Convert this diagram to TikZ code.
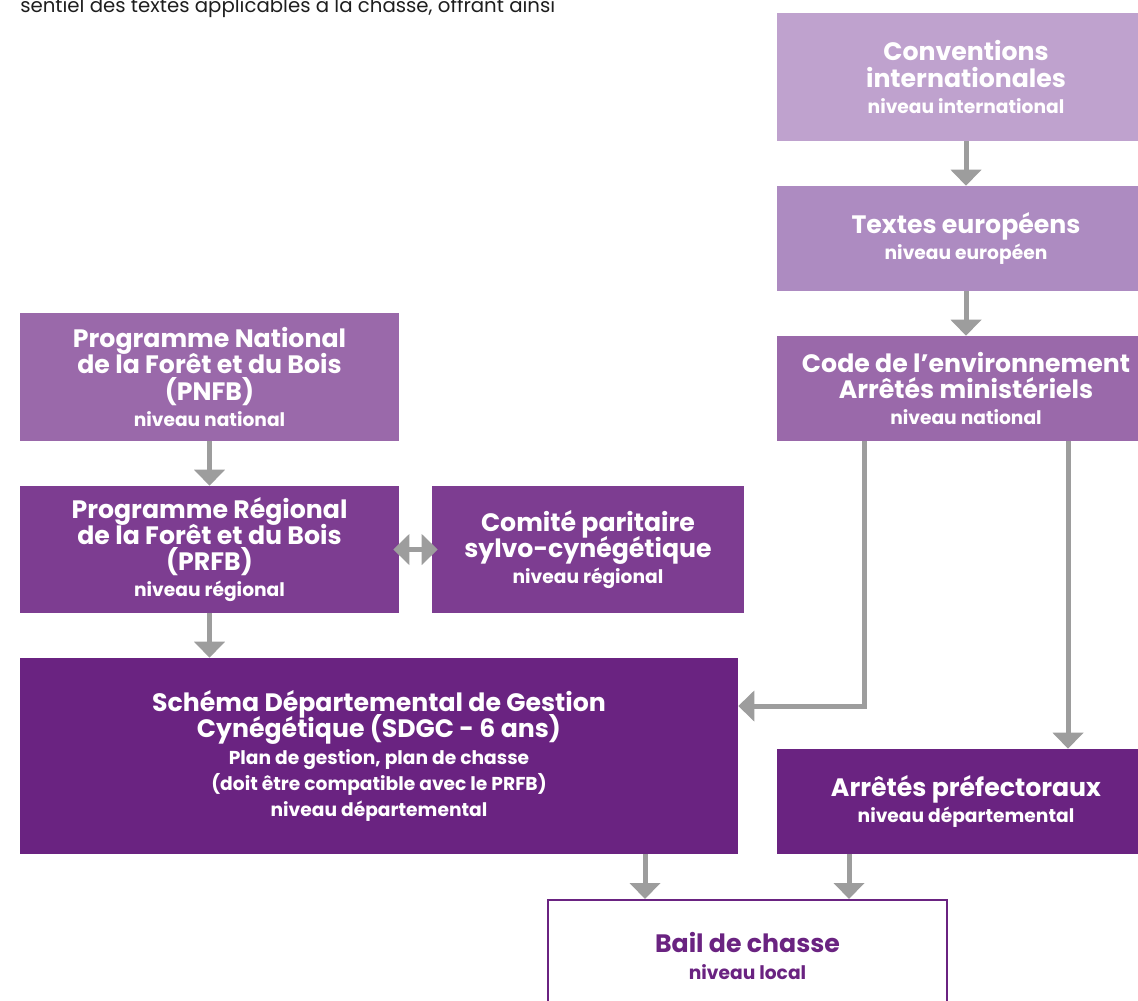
\documentclass[tikz,border=0pt]{standalone}
\usepackage{fontspec}
\setmainfont{Poppins}
\usetikzlibrary{arrows.meta}
\definecolor{cA}{HTML}{BFA2CE}
\definecolor{cB}{HTML}{AD8BC1}
\definecolor{cC}{HTML}{9A69AA}
\definecolor{cD}{HTML}{7D3D91}
\definecolor{cE}{HTML}{6A2381}
\definecolor{cG}{HTML}{9D9D9D}
\definecolor{cT}{HTML}{1E1E1E}
\newcommand\lvlfont{\fontsize{14}{15}\selectfont}
\newcommand\boxfont{\fontsize{18.9}{19.7}\selectfont\bfseries\lineskiplimit=-30pt\relax\lineskip=0pt\relax}
\begin{document}
\begin{tikzpicture}[x=0.75pt,y=-0.75pt,
  box/.style={rectangle, inner sep=0pt, align=center, text=white, font=\boxfont},
  arr/.style={draw=cG, line width=3.75pt, -{Triangle[width=22.5pt,length=12pt]}},
  darr/.style={draw=cG, line width=3.75pt, {Triangle[width=22.5pt,length=12pt]}-{Triangle[width=22.5pt,length=12pt]}}]
\useasboundingbox (0,0) rectangle (1138,1000);
\node[anchor=base west, inner sep=0pt, text=cT, font=\fontsize{14.8}{16}\selectfont] (intro) at (20,12) {sentiel des textes applicables à la chasse, offrant ainsi};
\node[box, fill=cA, minimum width=283.5pt, minimum height=96pt] (conv) at (966,77)
  {Conventions\\internationales\\{\lvlfont niveau international}};
\node[box, fill=cB, minimum width=283.5pt, minimum height=78.75pt] (eur) at (966,238.5)
  {Textes européens\\{\lvlfont niveau européen}};
\node[box, fill=cC, minimum width=283.5pt, minimum height=78.75pt] (code) at (966,388.5)
  {Code de l'environnement\\Arrêtés ministériels\\{\lvlfont niveau national}};
\node[box, fill=cC, minimum width=284.25pt, minimum height=96pt] (pnfb) at (209.5,377)
  {Programme National\\de la Forêt et du Bois\\(PNFB)\\{\lvlfont niveau national}};
\node[box, fill=cD, minimum width=284.25pt, minimum height=95.25pt] (prfb) at (209.5,549.5)
  {Programme Régional\\de la Forêt et du Bois\\(PRFB)\\{\lvlfont niveau régional}};
\node[box, fill=cD, minimum width=234pt, minimum height=95.25pt] (comite) at (588,549.5)
  {Comité paritaire\\sylvo-cynégétique\\{\lvlfont niveau régional}};
\node[box, fill=cE, minimum width=538.5pt, minimum height=147pt] (sdgc) at (379,756)
  {Schéma Départemental de Gestion\\Cynégétique (SDGC - 6 ans)\\{\lvlfont Plan de gestion, plan de chasse}\\{\lvlfont (doit être compatible avec le PRFB)}\\{\lvlfont niveau départemental}};
\node[box, fill=cE, minimum width=283.5pt, minimum height=78.75pt] (pref) at (966,801.5)
  {Arrêtés préfectoraux\\{\lvlfont niveau départemental}};
\node[box, fill=white, draw=cE, line width=1.5pt, text=cE, minimum width=299.25pt, minimum height=84pt] (bail) at (747.5,956)
  {Bail de chasse\\{\lvlfont niveau local}};
\coordinate (k1) at (864,706);
\coordinate (k2) at (1068,0);
\coordinate (k3) at (645,0);
\coordinate (k4) at (849,0);
\draw[arr] (conv) -- (eur);
\draw[arr] (eur) -- (code);
\draw[arr] (pnfb) -- (prfb);
\draw[arr] (prfb.south) -- (prfb.south |- sdgc.north);
\draw[darr, shorten <=-4.5pt, shorten >=-4.5pt] (prfb.east) -- (comite.west);
\draw[arr] (code.south -| k1) |- (sdgc.east |- k1);
\draw[arr] (code.south -| k2) -- (pref.north -| k2);
\draw[arr] (sdgc.south -| k3) -- (bail.north -| k3);
\draw[arr] (pref.south -| k4) -- (bail.north -| k4);
\end{tikzpicture}
\end{document}
